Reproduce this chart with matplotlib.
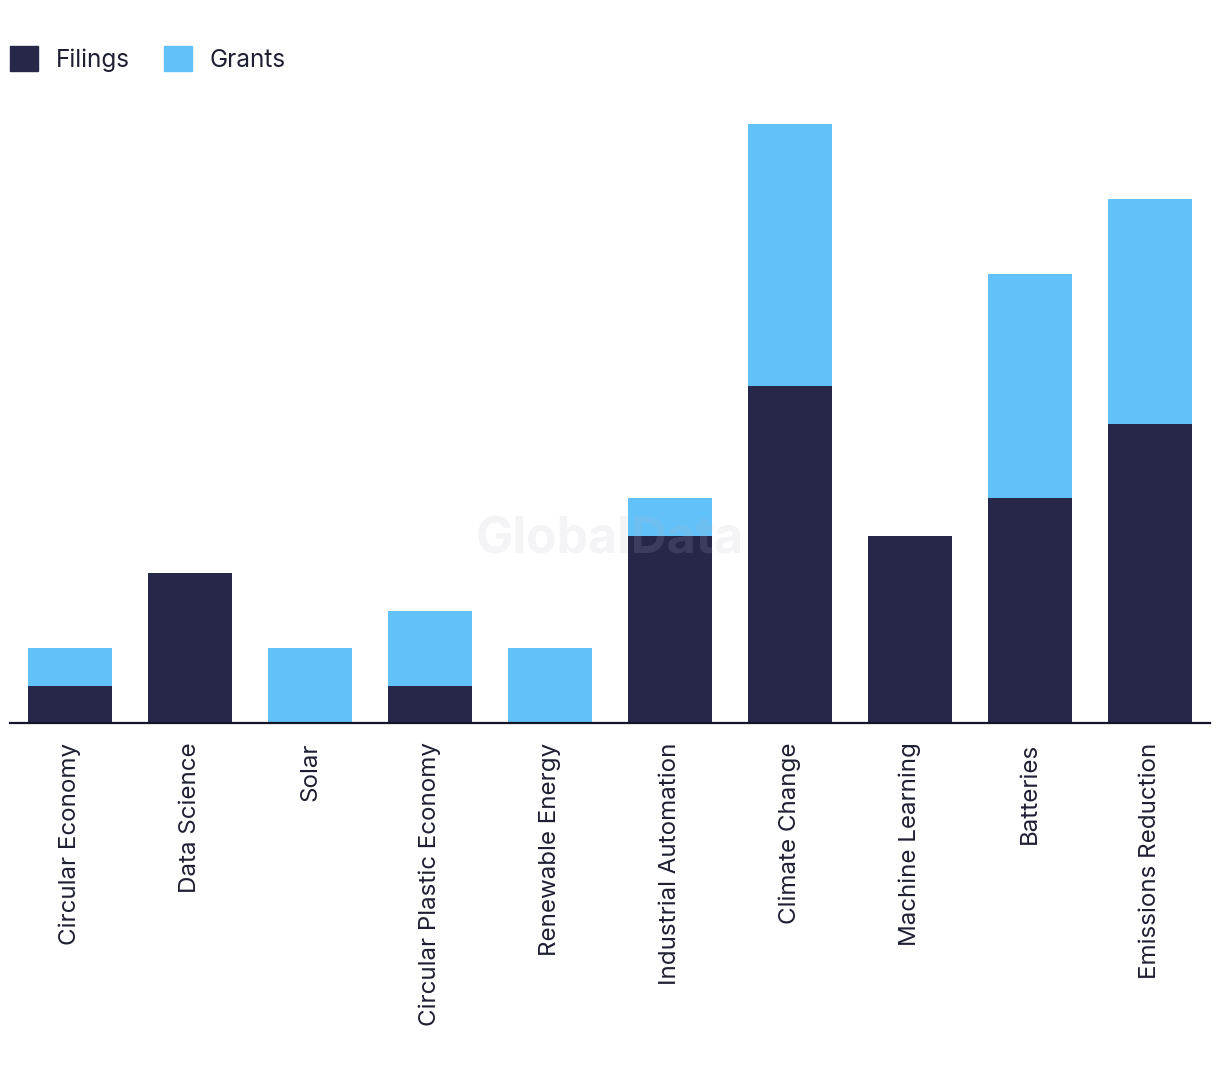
import matplotlib
matplotlib.use("Agg")
import matplotlib.pyplot as plt
from matplotlib.patches import Patch

plt.rcParams['font.family'] = ['Inter', 'DejaVu Sans']

categories = ["Circular Economy", "Data Science", "Solar", "Circular Plastic Economy",
              "Renewable Energy", "Industrial Automation", "Climate Change",
              "Machine Learning", "Batteries", "Emissions Reduction"]
filings = [1, 4, 0, 1, 0, 5, 9, 5, 6, 8]
grants = [1, 0, 2, 2, 2, 1, 7, 0, 6, 6]

dark = "#27274a"
light = "#62c1f8"
text_col = "#1f1f33"

fig = plt.figure(figsize=(12.2, 10.78), dpi=100)
ax = fig.add_axes([10 / 1220, 355 / 1078, 1200 / 1220, 599 / 1078])

x = range(len(categories))
ax.bar(x, filings, width=0.7, color=dark, label="Filings")
ax.bar(x, grants, width=0.7, bottom=filings, color=light, label="Grants")

ax.set_xlim(-0.5, len(categories) - 0.5)
ax.set_ylim(0, 16)
ax.set_xticks(list(x))
ax.set_xticklabels(categories, rotation=90, fontsize=17.4, color=text_col)
ax.tick_params(axis='x', length=0, pad=14)
ax.set_yticks([])
for s in ["top", "right", "left"]:
    ax.spines[s].set_visible(False)
ax.spines["bottom"].set_color("#15152a")
ax.spines["bottom"].set_linewidth(1.6)

# watermark
fig.text(610 / 1220, 1 - 540 / 1078, "GlobalData", fontsize=36, fontweight="bold",
         color="#b8b8c8", alpha=0.15, ha="center", va="center")

handles = [Patch(color=dark, label="Filings"), Patch(color=light, label="Grants")]
fig.legend(handles=handles, loc="upper left", bbox_to_anchor=(3 / 1220, 1 - 39 / 1078),
           ncol=2, frameon=False, fontsize=17.5, handlelength=1.15, handleheight=1.2,
           handletextpad=0.72, columnspacing=1.4, borderaxespad=0, borderpad=0.3,
           labelcolor=text_col)

fig.savefig("out.png", dpi=100)
